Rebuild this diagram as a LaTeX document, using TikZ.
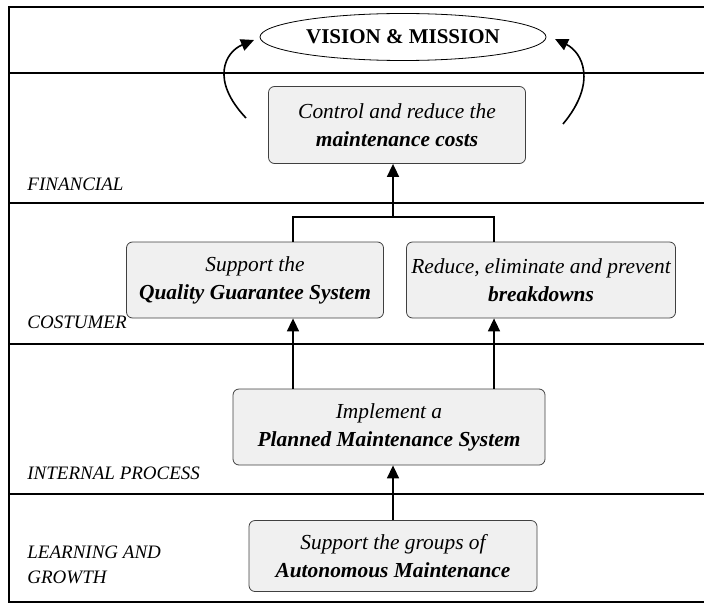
\documentclass[tikz,border=0pt]{standalone}
\usepackage{fontspec}
\setmainfont{Liberation Serif}
\usetikzlibrary{shapes.geometric,arrows.meta,positioning}

\begin{document}
\begin{tikzpicture}[
    x=0.5pt, y=-0.5pt,
    goal/.style={draw=black!75, rounded corners=3pt, fill=black!6, align=center, inner sep=1.5pt, font=\fontsize{10.7}{14}\selectfont\itshape},
    layer/.style={anchor=west, align=left, inner sep=0pt, font=\fontsize{9.5}{12.5}\selectfont\itshape},
    sep/.style={line width=1.1pt},
    link/.style={-{Triangle[length=6.5pt,width=6pt]}, line width=0.8pt}
]
    \useasboundingbox (0,0) rectangle (704,604);

    % frame and perspective lines
    \draw[sep] (704,7) -- (9,7) -- (9,602) -- (704,602);
    \foreach \y in {73,203,344,494}
        \draw[sep] (9,\y) -- (704,\y);

    \node[draw, ellipse, inner sep=0pt, minimum width=143pt, minimum height=23.5pt, font=\fontsize{10.5}{13}\selectfont\bfseries] (vision) at (403,37) {VISION \& MISSION};

    \node[goal, minimum width=128.5pt, minimum height=38.5pt] (control) at (397,125) {Control and reduce the\\\textbf{maintenance costs}};
    \node[goal, minimum width=128.5pt, minimum height=38pt] (quality) at (255,280) {Support the\\\textbf{Quality Guarantee System}};
    \node[goal, minimum width=134.5pt, minimum height=38pt] (reduce) at (541,280) {Reduce, eliminate and prevent\\\textbf{breakdowns}};
    \node[goal, minimum width=156pt, minimum height=38pt] (implement) at (389,427) {Implement a\\\textbf{Planned Maintenance System}};
    \node[goal, minimum width=144pt, minimum height=35.5pt] (groups) at (393,556) {Support the groups of\\\textbf{Autonomous Maintenance}};

    \node[layer] (financial) at (27,184) {FINANCIAL};
    \node[layer] (costumer) at (27,322) {COSTUMER};
    \node[layer] (internal) at (27,473) {INTERNAL PROCESS};
    \node[layer] (learning) at (27,565) {LEARNING AND\\GROWTH};

    \coordinate (qx) at (293,0);
    \coordinate (rx) at (494,0);
    \coordinate (joint) at (393,217);
    \coordinate (leftfoot) at (246,118);
    \coordinate (lefttip) at (254,40);
    \coordinate (rightfoot) at (563,124);
    \coordinate (righttip) at (555,39);

    \draw[link] (leftfoot) .. controls (210,80) and (225,52) .. (lefttip);
    \draw[link] (rightfoot) .. controls (598,82) and (582,52) .. (righttip);

    \draw[line width=0.8pt] (quality.north -| qx) |- (joint) -| (reduce.north -| rx);
    \draw[link] (joint) -- (control.south -| joint);

    \draw[link] (implement.north -| qx) -- (quality.south -| qx);
    \draw[link] (implement.north -| rx) -- (reduce.south -| rx);
    \draw[link] (groups.north -| joint) -- (implement.south -| joint);
\end{tikzpicture}
\end{document}
